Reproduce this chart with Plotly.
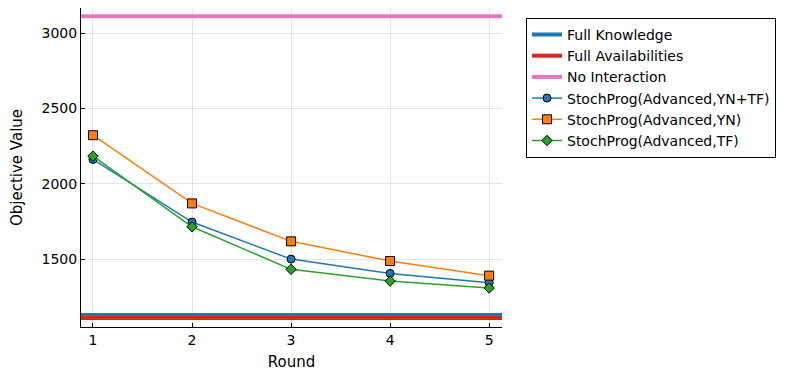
import plotly.graph_objects as go

rounds = [1, 2, 3, 4, 5]
full_knowledge = 1129
full_availabilities = 1109
no_interaction = 3113
yn_tf = [2162, 1746, 1500, 1405, 1343]
yn = [2323, 1870, 1618, 1487, 1390]
tf = [2184, 1715, 1432, 1354, 1308]

x_range = [0.879, 5.13]
y_range = [1049, 3168]

fig = go.Figure()
span = [0, 6]
for name, val, col in [("Full Knowledge", full_knowledge, "#1f77b4"),
                       ("Full Availabilities", full_availabilities, "#d62728"),
                       ("No Interaction", no_interaction, "#e377c2")]:
    fig.add_trace(go.Scatter(x=span, y=[val, val], mode="lines", name=name,
                             line=dict(color=col, width=4)))

for name, vals, col, sym, sz in [("StochProg(Advanced,YN+TF)", yn_tf, "#1f77b4", "circle", 8),
                                 ("StochProg(Advanced,YN)", yn, "#ff7f0e", "square", 9),
                                 ("StochProg(Advanced,TF)", tf, "#2ca02c", "diamond", 8)]:
    fig.add_trace(go.Scatter(x=rounds, y=vals, mode="lines+markers", name=name,
                             line=dict(color=col, width=1.5),
                             marker=dict(symbol=sym, size=sz, color=col,
                                         line=dict(color="black", width=1))))

axis_common = dict(showgrid=True, gridcolor="rgba(0,0,0,0.1)", gridwidth=1,
                   showline=True, linecolor="black", linewidth=1,
                   ticks="inside", ticklen=4, tickcolor="black",
                   zeroline=False, mirror=False,
                   tickfont=dict(size=14, color="black"))
fig.update_xaxes(range=x_range, tickvals=rounds,
                 title=dict(text="Round", font=dict(size=15), standoff=11),
                 **axis_common)
fig.update_yaxes(range=y_range, tickvals=[1500, 2000, 2500, 3000],
                 title=dict(text="Objective Value", font=dict(size=15), standoff=17),
                 **axis_common)

fig.update_layout(width=791, height=363,
                  margin=dict(l=73, r=297, t=0, b=44),
                  plot_bgcolor="white", paper_bgcolor="white",
                  font=dict(family="DejaVu Sans", color="black"),
                  legend=dict(x=1.057, y=0.969, xanchor="left", yanchor="top",
                              bordercolor="black", borderwidth=1,
                              font=dict(size=14), tracegroupgap=0,
                              itemwidth=30, entrywidth=230, entrywidthmode="pixels"),
                  showlegend=True)

fig.write_html("out.html")
